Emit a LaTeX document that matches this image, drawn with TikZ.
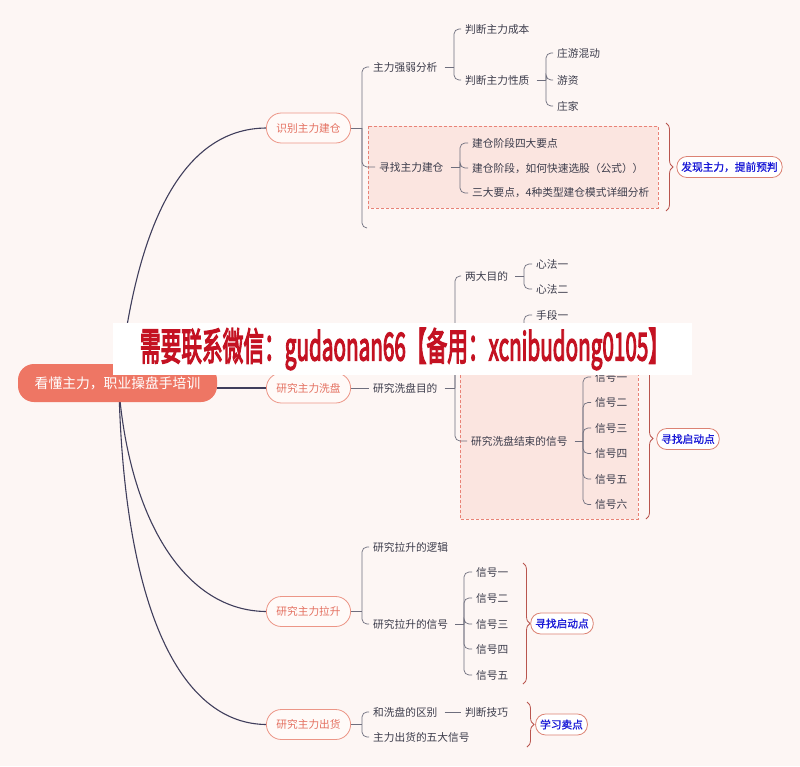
\documentclass[tikz,border=0pt]{standalone}
\usepackage{fontspec}
\usepackage{graphicx}
\setmainfont{Noto Sans CJK SC}
\newfontfamily\boldcjk[FakeBold=1.2]{Noto Sans CJK SC}
\newfontfamily\bannerfont[FakeBold=4]{Noto Sans CJK SC}
\usetikzlibrary{decorations.pathreplacing}
\definecolor{bg}{RGB}{253,246,244}
\definecolor{mainc}{RGB}{64,62,92}
\definecolor{subc}{RGB}{110,110,125}
\definecolor{txtc}{RGB}{60,60,75}
\definecolor{lborder}{RGB}{236,150,135}
\definecolor{lfill}{RGB}{255,250,248}
\definecolor{ltext}{RGB}{228,112,96}
\definecolor{rootfill}{RGB}{238,118,100}
\definecolor{bndborder}{RGB}{232,130,118}
\definecolor{bndfill}{RGB}{251,229,224}
\definecolor{bracec}{RGB}{185,85,78}
\definecolor{sumborder}{RGB}{220,130,115}
\definecolor{sumtext}{RGB}{25,25,215}
\definecolor{bannerred}{RGB}{196,18,34}
\tikzset{
  mainline/.style={draw=mainc, line width=1.1pt},
  subline/.style={draw=subc, line width=0.7pt, rounded corners=5pt},
  txt/.style={inner xsep=4pt, inner ysep=2pt, anchor=west, font=\fontsize{10.7}{12}\selectfont, text=txtc},
  lvlone/.style={draw=lborder, fill=lfill, line width=0.8pt, rounded corners=15pt, minimum height=30pt, inner xsep=10pt, text=ltext, font=\fontsize{10.7}{12}\selectfont},
  rootbox/.style={fill=rootfill, rounded corners=16pt, minimum height=38pt, minimum width=199pt, text=white, font=\fontsize{13.8}{15}\selectfont},
  summ/.style={draw=sumborder, fill=white, line width=0.8pt, rounded corners=10pt, minimum height=21pt, inner xsep=4.5pt, text=sumtext, font=\boldcjk\fontsize{10.7}{12}\selectfont},
  brc/.style={draw=bracec, line width=0.8pt, decorate, decoration={brace, amplitude=7pt, aspect=0.5}},
  boundary/.style={draw=bndborder, fill=bndfill, dash pattern=on 3pt off 2pt, line width=0.8pt}
}
\begin{document}
\begin{tikzpicture}[x=1pt,y=-1pt]
\useasboundingbox (0,0) rectangle (800,766);
\fill[bg] (0,0) rectangle (800,766);

% boundaries
\path[boundary] (368,126) rectangle (658,208);
\path[boundary] (460,360) rectangle (638,519);

% level 1 node west points
\coordinate (aw) at (267,128);
\coordinate (cw) at (267,611.5);
\coordinate (dw) at (267,724.5);

% main curves
\draw[mainline] (119,385) .. controls (135,230) and (180,128) .. (aw);
\draw[mainline] (119,390) .. controls (130,520) and (185,611.5) .. (cw);
\draw[mainline] (119,390) .. controls (125,620) and (185,724.5) .. (dw);

\node[rootbox] (root) at (117.5,383) {看懂主力，职业操盘手培训};
\node[lvlone] (a) at (308.5,128) {识别主力建仓};
\node[lvlone] (b) at (308.5,388) {研究主力洗盘};
\node[lvlone] (c) at (308.5,611.5) {研究主力拉升};
\node[lvlone] (d) at (308.5,724.5) {研究主力出货};
\draw[mainline] (root.east |- b.west) -- (b.west);

% ===== group A =====
\node[txt] (a1) at (369,67) {主力强弱分析};
\node[txt] (a2) at (375,167) {寻找主力建仓};
\draw[subline] (a.east) -- (362,128);
\draw[subline] (362,128) |- (a1.west);
\draw[subline] (362,128) |- (a2.west);
\draw[subline] (362,128) |- (367,228);

\node[txt] (a11) at (461,29) {判断主力成本};
\node[txt] (a12) at (461,80) {判断主力性质};
\draw[subline] ([xshift=3pt]a1.east) -- (454,67);
\draw[subline] (454,67) |- (a11.west);
\draw[subline] (454,67) |- (a12.west);

\node[txt] (a121) at (553,53) {庄游混动};
\node[txt] (a122) at (553,80) {游资};
\node[txt] (a123) at (553,106) {庄家};
\draw[subline] ([xshift=3pt]a12.east) -- (546,80);
\draw[subline] (546,80) |- (a121.west);
\draw[subline] (546,80) |- (a122.west);
\draw[subline] (546,80) |- (a123.west);

\node[txt] (a21) at (468,143) {建仓阶段四大要点};
\node[txt] (a22) at (468,168) {建仓阶段，如何快速选股（公式））};
\node[txt] (a23) at (468,193) {三大要点，4种类型建仓模式详细分析};
\draw[subline] ([xshift=3pt]a2.east) -- (460,167);
\draw[subline] (460,167) |- (a21.west);
\draw[subline] (460,167) |- (a22.west);
\draw[subline] (460,167) |- (a23.west);

\draw[brc] (666,123) -- (666,211);
\node[summ] (s1) at (729.5,167) {发现主力，提前预判};

% ===== group B =====
\node[txt] (b1) at (369,388) {研究洗盘目的};
\draw[subline] (b.east) -- (b1.west);

\node[txt] (b11) at (461,276) {两大目的};
\coordinate (b12) at (465,327.5);
\node[txt] (b13) at (467,441) {研究洗盘结束的信号};
\draw[subline] ([xshift=3pt]b1.east) -- (455,388);
\draw[subline] (455,388) |- (b11.west);
\draw[subline] (455,388) |- (b12);
\draw[subline] (455,388) |- (b13.west);

\node[txt] (b111) at (532,264) {心法一};
\node[txt] (b112) at (532,289) {心法二};
\draw[subline] ([xshift=3pt]b11.east) -- (524,276);
\draw[subline] (524,276) |- (b111.west);
\draw[subline] (524,276) |- (b112.west);

\node[txt] (b121) at (532,315) {手段一};
\coordinate (b122) at (532,340);
\draw[subline] (524,340) |- (b121.west);
\draw[subline] (524,327.5) |- (b122);

\node[txt] (b131) at (591,377) {信号一};
\node[txt] (b132) at (591,402.5) {信号二};
\node[txt] (b133) at (591,428) {信号三};
\node[txt] (b134) at (591,453.5) {信号四};
\node[txt] (b135) at (591,479) {信号五};
\node[txt] (b136) at (591,504.5) {信号六};
\draw[subline] ([xshift=3pt]b13.east) -- (583,441);
\foreach \k in {1,...,6} {\draw[subline] (583,441) |- (b13\k.west);}

\draw[brc] (646,358) -- (646,519);
\node[summ] (s2) at (688,439) {寻找启动点};

% ===== group C =====
\node[txt] (c1) at (369,547) {研究拉升的逻辑};
\node[txt] (c2) at (369,624) {研究拉升的信号};
\draw[subline] (c.east) -- (362,611.5);
\draw[subline] (362,611.5) |- (c1.west);
\draw[subline] (362,611.5) |- (c2.west);

\node[txt] (c21) at (472,572) {信号一};
\node[txt] (c22) at (472,598) {信号二};
\node[txt] (c23) at (472,624) {信号三};
\node[txt] (c24) at (472,649) {信号四};
\node[txt] (c25) at (472,675) {信号五};
\draw[subline] ([xshift=3pt]c2.east) -- (464,624);
\foreach \k in {1,...,5} {\draw[subline] (464,624) |- (c2\k.west);}

\draw[brc] (523,563) -- (523,684);
\node[summ] (s3) at (562,623.5) {寻找启动点};

% ===== group D =====
\node[txt] (d1) at (369,712) {和洗盘的区别};
\node[txt] (d2) at (369,737) {主力出货的五大信号};
\draw[subline] (d.east) -- (362,724.5);
\draw[subline] (362,724.5) |- (d1.west);
\draw[subline] (362,724.5) |- (d2.west);

\node[txt] (d11) at (461,712) {判断技巧};
\draw[subline] ([xshift=3pt]d1.east) -- (d11.west);

\draw[brc] (527,702) -- (527,747);
\node[summ] (s4) at (561.5,724.5) {学习卖点};

% ===== banner =====
\node[fill=white, minimum width=579pt, minimum height=52pt, inner sep=0pt] (banner) at (402.5,349) {};
\node[inner sep=0pt] (bannertext) at (404.5,349) {\resizebox*{529pt}{42pt}{\bannerfont\color{bannerred}需要联系微信：gudaonan66【备用：xcnibudong0105】}};
\end{tikzpicture}
\end{document}
